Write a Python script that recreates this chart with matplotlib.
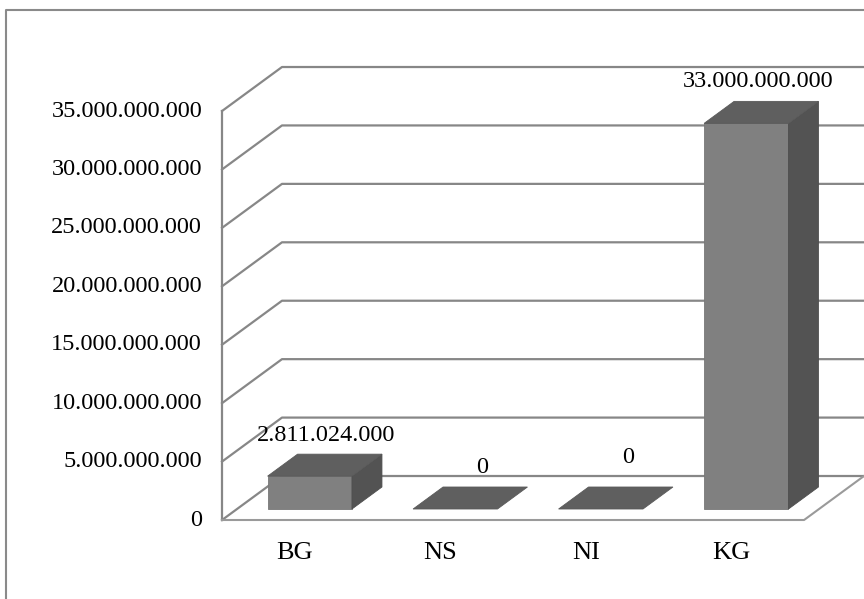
import matplotlib.pyplot as plt
from matplotlib.patches import Polygon
from matplotlib.lines import Line2D

plt.rcParams['font.family'] = ['Liberation Serif', 'DejaVu Serif']

categories = ['BG', 'NS', 'NI', 'KG']
values = [2811024000, 0, 0, 33000000000]
value_labels = ['2.811.024.000', '0', '0', '33.000.000.000']
ticks = [0, 5e9, 10e9, 15e9, 20e9, 25e9, 30e9, 35e9]
tick_labels = ['0', '5.000.000.000', '10.000.000.000', '15.000.000.000',
               '20.000.000.000', '25.000.000.000', '30.000.000.000',
               '35.000.000.000']

# oblique "3d" look: depth shift in category units / value units
DX = 0.412
DY = 3.765e9
BAR_W = 0.58
Z0, Z1 = 0.25, 0.75
# excel puts the labels a bit oddly, nudge in pixels
lab_dx = [1, 12, 12, -3]
lab_dy = [30, 31, 41, 31]

grid_col = '#878787'
fs = 17.5


def proj(x, y, z):
    return (x + DX * z, y + DY * z)


fig = plt.figure(figsize=(8.64, 5.99), dpi=100)
ax = fig.add_axes([0, 0, 1, 1])
ax.set_xlim(-1.526, 4.412)
ax.set_ylim(-6.76e9, 44.5e9)
ax.axis('off')

# outer chart frame (cut at right/bottom)
fig.add_artist(Line2D([6 / 864, 6 / 864, 1.0], [0.0, 1 - 10 / 599, 1 - 10 / 599],
                      transform=fig.transFigure, color='#8a8a8a', lw=1.5))

# walls / gridlines
for t in ticks:
    pts = [proj(0, t, 0), proj(0, t, 1), proj(4, t, 1)]
    ax.plot([p[0] for p in pts], [p[1] for p in pts], color=grid_col, lw=1.6, zorder=1)
ax.plot([0, 0], [0, ticks[-1]], color=grid_col, lw=1.6, zorder=1)

# floor front edge
fl = [proj(0, 0, 0), proj(4, 0, 0), proj(4, 0, 1)]
ax.plot([p[0] for p in fl], [p[1] for p in fl], color='#9a9a9a', lw=1.5, zorder=1)

for t, lbl in zip(ticks, tick_labels):
    ax.text(-0.137, t, lbl, ha='right', va='center', fontsize=fs)

# bars
for i, v in enumerate(values):
    xc = i + 0.5
    x0, x1 = xc - BAR_W / 2, xc + BAR_W / 2
    top = [proj(x0, v, Z0), proj(x1, v, Z0), proj(x1, v, Z1), proj(x0, v, Z1)]
    if v > 0:
        front = [proj(x0, 0, Z0), proj(x1, 0, Z0), proj(x1, v, Z0), proj(x0, v, Z0)]
        side = [proj(x1, 0, Z0), proj(x1, 0, Z1), proj(x1, v, Z1), proj(x1, v, Z0)]
        ax.add_patch(Polygon(front, closed=True, fc='#808080', ec='#787878', lw=0.6, zorder=3))
        ax.add_patch(Polygon(side, closed=True, fc='#535353', ec='#4e4e4e', lw=0.6, zorder=3))
    ax.add_patch(Polygon(top, closed=True, fc='#5f5f5f', ec='#5a5a5a', lw=0.6, zorder=3))

    ax.annotate(value_labels[i], xy=proj(xc, v, 0.5), xytext=(lab_dx[i], lab_dy[i]),
                textcoords='offset pixels', ha='center', va='center', fontsize=fs, zorder=4)
    ax.annotate(categories[i], xy=(xc, 0), xytext=(0, -33), textcoords='offset pixels',
                ha='center', va='center', fontsize=19)

fig.savefig('out.png', dpi=100, facecolor='white')
